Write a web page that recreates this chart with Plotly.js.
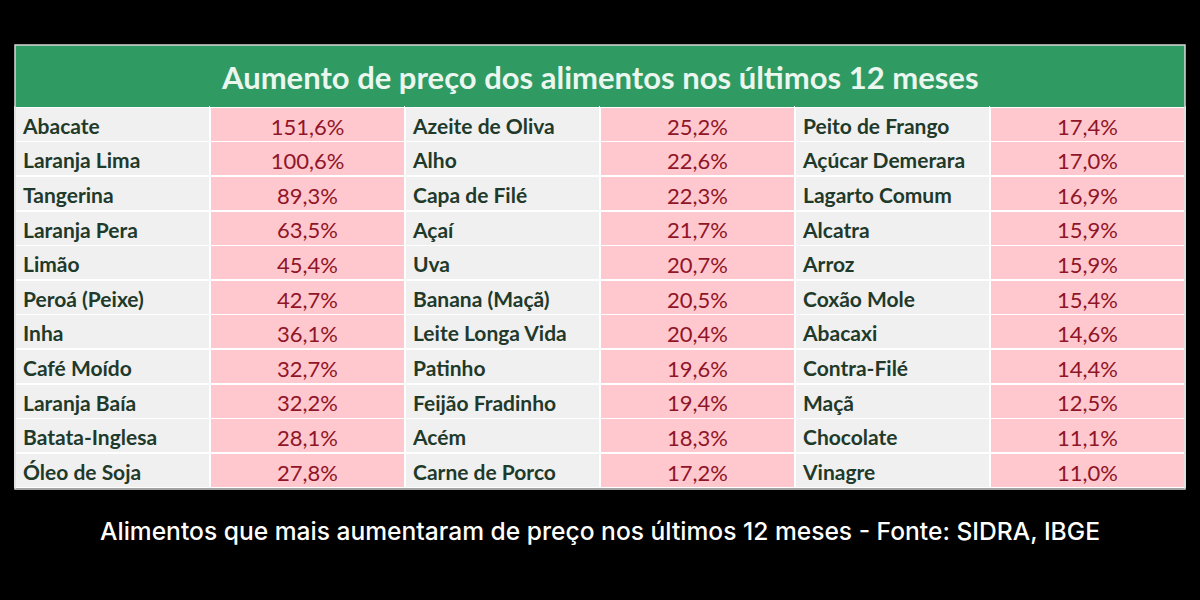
<!DOCTYPE html>
<html>
<head>
<meta charset="utf-8">
<script src="https://cdn.plot.ly/plotly-3.0.1.min.js"></script>
<style>
html,body{margin:0;padding:0;background:#000;}
#chart{width:1200px;height:600px;}
text.cell-text{transform:translate(0px,3px);}
</style>
</head>
<body>
<div id="chart"></div>
<script>
const title = "Aumento de preço dos alimentos nos últimos 12 meses";
const caption = "Alimentos que mais aumentaram de preço nos últimos 12 meses - Fonte: SIDRA, IBGE";

const names1 = ["Abacate","Laranja Lima","Tangerina","Laranja Pera","Limão","Peroá (Peixe)","Inha","Café Moído","Laranja Baía","Batata-Inglesa","Óleo de Soja"];
const values1 = [151.6,100.6,89.3,63.5,45.4,42.7,36.1,32.7,32.2,28.1,27.8];
const names2 = ["Azeite de Oliva","Alho","Capa de Filé","Açaí","Uva","Banana (Maçã)","Leite Longa Vida","Patinho","Feijão Fradinho","Acém","Carne de Porco"];
const values2 = [25.2,22.6,22.3,21.7,20.7,20.5,20.4,19.6,19.4,18.3,17.2];
const names3 = ["Peito de Frango","Açúcar Demerara","Lagarto Comum","Alcatra","Arroz","Coxão Mole","Abacaxi","Contra-Filé","Maçã","Chocolate","Vinagre"];
const values3 = [17.4,17.0,16.9,15.9,15.9,15.4,14.6,14.4,12.5,11.1,11.0];

const fmt = v => v.toFixed(1).replace('.', ',') + '%';
const W = 1200, H = 600;
const nameFill = '#f0f0f0', valFill = '#ffc7ce', green = '#2f9a62';
const nameCol = '#1f3a2b', valCol = '#8f1528';

const trace = {
  type: 'table',
  domain: {x: [15 / W, 1185 / W], y: [1 - 489 / H, 1 - 45 / H]},
  columnwidth: [1, 1, 1, 1, 1, 1],
  header: {
    values: ['', '', '', '', '', ''],
    height: 62,
    fill: {color: green},
    line: {color: green, width: 0}
  },
  cells: {
    values: [names1, values1.map(fmt), names2, values2.map(fmt), names3, values3.map(fmt)],
    height: 34.6,
    align: ['left', 'center', 'left', 'center', 'left', 'center'],
    fill: {color: [nameFill, valFill, nameFill, valFill, nameFill, valFill]},
    line: {color: '#ffffff', width: 1.5},
    font: {
      family: 'Lato, "Open Sans", sans-serif',
      size: [21, 22, 21, 22, 21, 22],
      color: [nameCol, valCol, nameCol, valCol, nameCol, valCol],
      weight: ['bold', 'normal', 'bold', 'normal', 'bold', 'normal']
    }
  }
};

const layout = {
  width: W, height: H,
  margin: {l: 0, r: 0, t: 0, b: 0},
  paper_bgcolor: '#000000',
  plot_bgcolor: '#000000',
  showlegend: false,
  shapes: [
    {type: 'rect', xref: 'paper', yref: 'paper', x0: 15 / W, x1: 1185 / W, y0: 1 - 489 / H, y1: 1 - 45 / H,
     line: {color: '#d8d8d8', width: 1.5}, fillcolor: 'rgba(0,0,0,0)', layer: 'above'}
  ],
  annotations: [
    {text: '<b>' + title + '</b>', xref: 'paper', yref: 'paper', x: 600 / W, y: 1 - 77 / H,
     xanchor: 'center', yanchor: 'middle', showarrow: false,
     font: {family: 'Lato, "Open Sans", sans-serif', size: 31, color: '#eaf6ee'}},
    {text: caption, xref: 'paper', yref: 'paper', x: 600 / W, y: 1 - 531 / H,
     xanchor: 'center', yanchor: 'middle', showarrow: false,
     font: {family: 'Inter, Roboto, sans-serif', size: 24.6, color: '#ffffff', weight: 500}}
  ]
};

Plotly.newPlot('chart', [trace], layout, {displayModeBar: false, staticPlot: true});
</script>
</body>
</html>
